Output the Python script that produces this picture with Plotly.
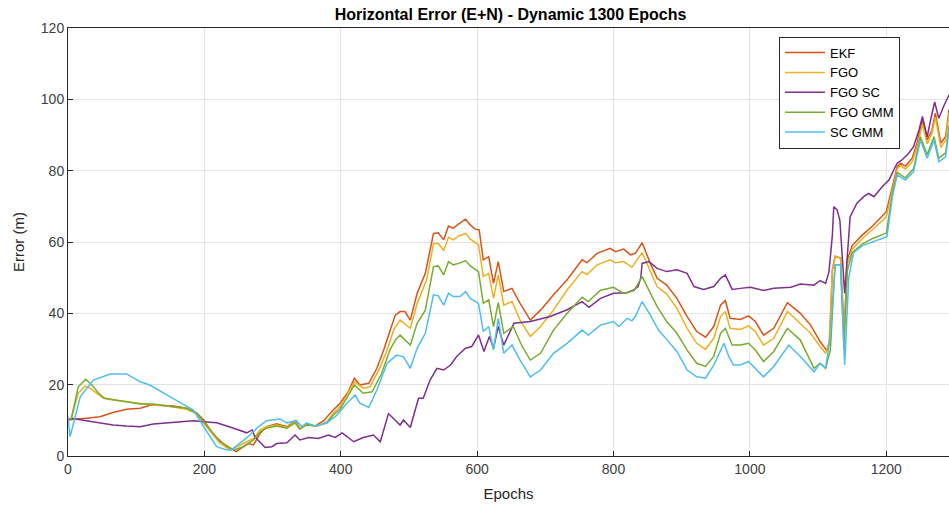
import plotly.graph_objects as go

# Horizontal position error per estimator over the dynamic run
ekf_epoch = [0, 8, 27, 47, 66, 86, 106, 120, 135, 155, 174, 189, 199, 213, 233, 247, 257, 265, 272, 282,
             291, 306, 321, 333, 340, 350, 362, 375, 389, 399, 411, 420, 428, 441, 453, 463, 472, 480, 487, 494,
             502, 512, 524, 536, 543, 551, 558, 565, 573, 583, 590, 597, 603, 609, 617, 624, 631, 639, 651, 663,
             678, 693, 712, 732, 754, 761, 776, 795, 803, 815, 825, 832, 842, 854, 864, 878, 893, 908, 922, 935,
             947, 957, 964, 971, 986, 998, 1008, 1020, 1035, 1055, 1074, 1089, 1103, 1108, 1113, 1117, 1121, 1125,
             1133, 1138, 1143, 1150, 1165, 1180, 1200, 1209, 1216, 1221, 1228, 1238, 1245, 1253, 1260, 1267, 1272,
             1280, 1287, 1292, 1300]
ekf_err = [10.0, 10.3, 10.6, 11.0, 12.2, 13.1, 13.4, 14.2, 14.2, 14.0, 13.4, 12.0, 10.1, 6.0, 2.6, 1.2, 2.6, 3.5, 3.1, 6.4,
           8.2, 9.0, 8.2, 9.9, 7.8, 9.0, 8.4, 9.9, 12.9, 14.8, 18.0, 21.8, 19.9, 20.4, 24.6, 29.7, 35.0, 39.5, 40.5, 40.5,
           38.1, 45.6, 51.2, 62.4, 62.6, 60.6, 64.5, 63.9, 65.1, 66.4, 64.8, 63.6, 63.4, 55.0, 55.9, 48.4, 54.5, 46.1, 47.0, 42.8,
           38.1, 40.9, 45.2, 49.4, 55.0, 54.2, 56.8, 58.2, 57.3, 58.0, 56.4, 56.8, 59.8, 54.0, 49.8, 47.9, 44.2, 39.1, 34.9, 33.3,
           36.3, 42.3, 43.6, 38.6, 38.3, 39.3, 37.7, 33.9, 35.8, 43.0, 40.0, 36.7, 32.1, 30.7, 29.5, 32.5, 52.2, 56.0,
           55.5, 35.0, 55.0, 59.0, 62.0, 64.5, 68.5, 75.5, 81.1, 82.1, 81.3, 83.5, 87.7, 94.2, 88.6, 91.4, 96.1,
           87.7, 89.6, 97.0, 99.0]

fgo_epoch = [0, 5, 15, 25, 32, 42, 52, 66, 86, 106, 125, 145, 174, 189, 203, 223, 238, 257, 272, 282,
             291, 306, 321, 333, 340, 350, 365, 380, 389, 399, 420, 433, 443, 458, 468, 478, 487, 502, 512, 526,
             536, 543, 551, 558, 565, 573, 583, 590, 602, 609, 617, 624, 631, 639, 651, 663, 678, 693, 712, 732,
             754, 761, 776, 795, 803, 815, 827, 842, 854, 864, 878, 893, 908, 922, 935, 947, 957, 964, 971, 986,
             998, 1008, 1020, 1035, 1055, 1074, 1089, 1103, 1111, 1116, 1121, 1125, 1133, 1138, 1143, 1150, 1165,
             1180, 1200, 1209, 1216, 1221, 1228, 1238, 1245, 1253, 1260, 1267, 1272, 1280, 1287, 1292, 1300]
fgo_err = [10.0, 10.6, 17.6, 19.6, 19.0, 17.6, 16.2, 15.7, 15.2, 14.6, 14.3, 14.0, 13.1, 11.8, 8.2, 3.5, 1.7, 3.5, 4.9, 7.3,
           8.2, 8.7, 8.0, 9.6, 7.8, 8.7, 8.4, 9.6, 12.0, 13.8, 20.8, 19.0, 19.4, 25.0, 29.7, 35.5, 38.1, 35.8, 42.8, 49.4,
           59.6, 59.6, 57.6, 61.3, 60.6, 61.7, 62.4, 60.8, 59.2, 50.3, 51.2, 44.2, 50.8, 42.3, 43.3, 38.1, 33.5, 36.3, 40.9, 46.6,
           51.7, 50.9, 53.6, 55.0, 54.2, 54.5, 52.9, 57.0, 52.0, 47.5, 45.4, 41.4, 35.8, 31.6, 29.9, 33.0, 39.1, 40.5, 35.8, 35.5,
           36.5, 34.9, 31.1, 33.0, 40.5, 37.2, 34.4, 30.7, 28.8, 31.6, 52.0, 56.1, 55.5, 33.0, 54.0, 58.0, 61.0,
           63.5, 67.0, 74.5, 80.5, 81.5, 80.5, 82.5, 86.5, 93.0, 87.5, 90.5, 95.0, 86.5, 88.5, 96.0, 98.0]

fgo_sc_epoch = [0, 5, 27, 47, 66, 86, 106, 125, 145, 164, 184, 199, 218, 243, 262, 270, 274, 289, 299, 306,
                321, 333, 340, 353, 367, 382, 392, 402, 419, 433, 448, 458, 470, 487, 492, 502, 514, 521, 531, 541,
                551, 561, 570, 583, 592, 602, 610, 618, 624, 631, 639, 654, 678, 707, 732, 754, 764, 781, 800, 820,
                830, 836, 840, 842, 852, 864, 878, 893, 908, 918, 932, 947, 957, 964, 974, 986, 1001, 1020, 1035, 1060,
                1074, 1094, 1103, 1111, 1116, 1121, 1123, 1128, 1132, 1139, 1143, 1147, 1157, 1167, 1174, 1182, 1194,
                1204, 1211, 1216, 1223, 1233, 1240, 1248, 1253, 1260, 1265, 1271, 1277, 1284, 1292, 1300]
fgo_sc_err = [10.0, 10.6, 9.9, 9.3, 8.7, 8.4, 8.2, 9.0, 9.3, 9.6, 9.9, 9.6, 9.3, 7.8, 6.5, 7.3, 5.4, 2.4, 2.6, 3.5,
              3.7, 5.9, 4.5, 5.2, 4.9, 5.9, 5.2, 6.5, 4.0, 5.2, 5.9, 4.0, 11.9, 8.7, 10.1, 8.0, 16.2, 16.2, 21.3, 24.6,
              24.1, 25.5, 27.9, 30.2, 30.7, 33.9, 29.3, 33.5, 30.2, 36.3, 31.1, 37.2, 37.7, 39.1, 41.0, 43.3, 41.7, 44.2, 45.6, 45.8,
              46.6, 47.5, 50.0, 54.0, 54.5, 52.6, 51.7, 52.2, 51.2, 47.5, 46.7, 47.5, 49.8, 50.8, 46.7, 47.0, 47.3, 46.4, 47.0, 47.3,
              48.2, 47.9, 49.2, 48.4, 51.7, 62.0, 69.9, 69.0, 66.0, 45.6, 55.9, 67.1, 70.9, 72.7, 73.6, 72.7, 75.5,
              77.4, 80.2, 82.1, 83.0, 84.9, 86.7, 91.4, 95.2, 89.5, 94.2, 99.3, 94.7, 98.0, 101.2, 103.0]

fgo_gmm_epoch = [0, 5, 15, 26, 35, 45, 54, 71, 86, 106, 125, 145, 174, 189, 203, 223, 243, 257, 272, 282,
                 291, 306, 321, 333, 340, 350, 365, 380, 389, 399, 420, 433, 446, 460, 472, 480, 487, 502, 512, 524,
                 536, 543, 551, 558, 565, 573, 583, 590, 602, 609, 617, 624, 631, 639, 653, 666, 678, 693, 712, 732,
                 754, 763, 781, 800, 815, 830, 842, 854, 864, 878, 893, 908, 922, 935, 947, 957, 964, 974, 986, 998,
                 1008, 1020, 1035, 1055, 1074, 1094, 1103, 1111, 1118, 1125, 1133, 1138, 1143, 1150, 1165, 1180, 1200,
                 1209, 1216, 1228, 1240, 1250, 1260, 1270, 1277, 1287, 1292, 1300]
fgo_gmm_err = [10.0, 10.6, 19.4, 21.5, 19.9, 17.6, 16.2, 15.7, 15.2, 14.6, 14.6, 14.0, 13.4, 12.0, 8.7, 4.0, 1.7, 2.6, 4.5, 6.8,
               7.8, 8.4, 7.8, 9.3, 7.5, 8.7, 8.4, 9.3, 11.5, 13.1, 19.9, 17.6, 18.0, 23.2, 29.7, 32.5, 33.9, 31.1, 37.2, 40.9,
               53.1, 53.3, 50.8, 54.5, 53.6, 54.0, 54.8, 53.3, 51.7, 42.8, 43.8, 36.3, 43.0, 34.4, 36.3, 30.7, 26.9, 28.8, 35.3, 40.0,
               44.5, 43.3, 46.5, 47.3, 45.6, 46.4, 50.3, 45.6, 41.9, 37.7, 34.4, 29.7, 26.0, 25.1, 27.9, 34.4, 35.8, 31.1, 31.1, 31.6,
               29.7, 26.5, 29.3, 35.8, 32.5, 24.6, 26.0, 24.6, 29.7, 53.6, 53.6, 30.0, 52.0, 57.0, 59.5, 61.0, 62.5,
               73.5, 79.5, 78.0, 80.5, 89.5, 84.5, 89.5, 83.5, 85.0, 92.5, 94.0]

sc_gmm_epoch = [0, 3, 18, 37, 62, 86, 106, 120, 150, 174, 184, 199, 218, 233, 240, 252, 267, 277, 291, 311,
                321, 335, 343, 350, 362, 380, 394, 409, 421, 428, 441, 453, 468, 482, 492, 502, 512, 524, 536, 543,
                551, 558, 565, 575, 583, 590, 602, 609, 617, 624, 631, 639, 651, 663, 678, 693, 712, 732, 754, 763,
                781, 800, 808, 820, 827, 832, 842, 854, 866, 878, 893, 908, 922, 935, 947, 962, 969, 976, 986, 998,
                1008, 1020, 1035, 1057, 1074, 1094, 1103, 1111, 1118, 1125, 1133, 1139, 1145, 1152, 1165, 1180, 1201,
                1209, 1216, 1228, 1240, 1250, 1260, 1270, 1277, 1287, 1292, 1300]
sc_gmm_err = [11.0, 5.4, 16.6, 21.3, 23.0, 23.0, 20.8, 19.9, 16.6, 14.0, 12.9, 8.2, 2.6, 1.7, 1.7, 3.6, 5.9, 7.8, 9.9, 10.4,
              9.3, 9.9, 8.2, 9.3, 8.4, 9.3, 11.4, 14.8, 17.1, 14.8, 13.6, 18.5, 26.0, 28.3, 27.8, 24.6, 30.2, 34.4, 45.2, 44.9,
              42.3, 45.6, 44.7, 44.7, 46.1, 44.2, 42.8, 34.9, 36.3, 29.7, 38.6, 28.8, 31.1, 26.9, 22.2, 24.1, 28.8, 31.6, 35.3, 33.9,
              36.7, 37.7, 36.3, 38.6, 37.9, 39.1, 43.3, 39.5, 35.3, 32.7, 29.3, 24.1, 22.2, 21.8, 25.5, 31.6, 27.9, 25.5, 25.5, 26.5,
              24.6, 22.2, 25.1, 31.1, 27.9, 23.6, 26.0, 24.6, 33.5, 53.6, 53.6, 25.5, 50.0, 57.0, 59.0, 60.0, 61.5,
              72.7, 78.8, 77.4, 79.7, 88.6, 83.5, 88.6, 82.5, 83.9, 91.4, 93.0]

series = [
    ("EKF", ekf_epoch, ekf_err, "#D95319"),
    ("FGO", fgo_epoch, fgo_err, "#EDB120"),
    ("FGO SC", fgo_sc_epoch, fgo_sc_err, "#7E2F8E"),
    ("FGO GMM", fgo_gmm_epoch, fgo_gmm_err, "#77AC30"),
    ("SC GMM", sc_gmm_epoch, sc_gmm_err, "#4DBEEE"),
]

x_ticks = [0, 200, 400, 600, 800, 1000, 1200]
y_ticks = [0, 20, 40, 60, 80, 100, 120]

fig = go.Figure()
for name, ex, ey, color in series:
    fig.add_trace(go.Scatter(x=ex, y=ey, mode="lines", name=name,
                             line=dict(color=color, width=1.5)))

axis_color = "#262626"
fig.update_layout(
    width=949, height=509,
    margin=dict(l=68, r=0, t=28, b=53),
    paper_bgcolor="white", plot_bgcolor="white",
    font=dict(family="Liberation Sans, Arial, sans-serif", color=axis_color, size=14),
    title=dict(text="<b>Horizontal Error (E+N) - Dynamic 1300 Epochs</b>",
               x=0.538, xanchor="center", y=0.972, yanchor="middle", yref="container",
               font=dict(size=16, color="black")),
    showlegend=True,
    legend=dict(x=0.807, y=0.98, xanchor="left", yanchor="top",
                bgcolor="white", bordercolor=axis_color, borderwidth=1,
                font=dict(size=13, color="black"), tracegroupgap=0,
                itemwidth=40),
)
fig.update_xaxes(range=[0, 1292], tickvals=x_ticks, ticks="inside", ticklen=5,
                 tickcolor=axis_color, showline=True, linecolor=axis_color, linewidth=1,
                 mirror=True, showgrid=True, gridcolor="#e3e3e3", gridwidth=1, zeroline=False,
                 title=dict(text="Epochs", font=dict(size=15), standoff=12),
                 tickfont=dict(size=14, color="#404040"))
fig.update_yaxes(range=[0, 120], tickvals=y_ticks, ticks="inside", ticklen=5,
                 tickcolor=axis_color, showline=True, linecolor=axis_color, linewidth=1,
                 showgrid=True, gridcolor="#e3e3e3", gridwidth=1, zeroline=False,
                 title=dict(text="Error (m)", font=dict(size=15), standoff=12),
                 tickfont=dict(size=14, color="#404040"))

fig.write_html("out.html")
